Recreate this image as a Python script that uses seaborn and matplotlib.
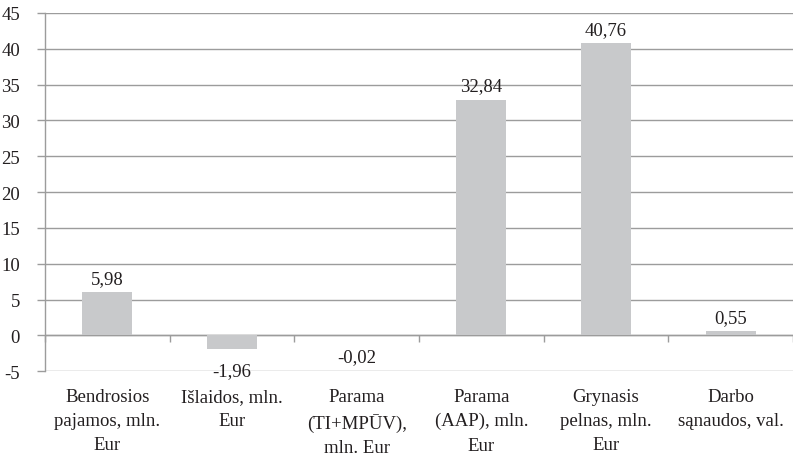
import numpy as np
import pandas as pd
import matplotlib
matplotlib.use("Agg")
import matplotlib.pyplot as plt
import seaborn as sns

# --- Data ---
categories = [
    "Bendrosios\npajamos, mln.\nEur",
    "Išlaidos, mln.\nEur",
    "Parama\n(TI+MPŪV),\nmln. Eur",
    "Parama\n(AAP), mln.\nEur",
    "Grynasis\npelnas, mln.\nEur",
    "Darbo\nsąnaudos, val.",
]
values = [5.98, -1.96, -0.02, 32.84, 40.76, 0.55]
y_ticks = [-5, 0, 5, 10, 15, 20, 25, 30, 35, 40, 45]

BAR_COLOR = "#c8c9cb"
LINE_COLOR = "#9c9c9c"
TEXT_COLOR = "#231f20"
FS = 13.5

sns.set_theme(style="white")
plt.rcParams["font.family"] = ["Liberation Serif", "DejaVu Serif"]
plt.rcParams["font.size"] = FS

df = pd.DataFrame({"category": categories, "value": values})

fig = plt.figure(figsize=(7.93, 4.6), dpi=100)
ax = fig.add_axes([0.0567, 0.191, 0.9433, 0.7786])

sns.barplot(data=df, x="category", y="value", color=BAR_COLOR,
            width=0.4, saturation=1, linewidth=0, ax=ax, zorder=3)

ax.set_ylim(y_ticks[0], y_ticks[-1])
ax.set_xlim(-0.5, len(categories) - 0.5)
ax.set_yticks(y_ticks)
ax.set_yticklabels([str(t) for t in y_ticks], color=TEXT_COLOR, fontsize=FS)
ax.yaxis.grid(True, color=LINE_COLOR, linewidth=1)
ax.set_axisbelow(True)
ax.set_xlabel("")
ax.set_ylabel("")

for side in ["top", "right", "bottom"]:
    ax.spines[side].set_visible(False)
ax.spines["left"].set_color(LINE_COLOR)
ax.spines["left"].set_linewidth(1)

ax.tick_params(axis="y", length=6, width=1, color=LINE_COLOR, pad=12,
               direction="out", left=True)
ax.tick_params(axis="x", length=0, pad=12, colors=TEXT_COLOR, labelsize=FS)
for lbl in ax.get_xticklabels():
    lbl.set_linespacing(1.55)

# zero axis line with tick marks between categories
ax.axhline(0, color=LINE_COLOR, linewidth=1, zorder=2)
zero_frac = (0 - y_ticks[0]) / (y_ticks[-1] - y_ticks[0])
sec = ax.secondary_xaxis(zero_frac)
sec.set_xticks(np.arange(len(categories) + 1) - 0.5)
sec.set_xticklabels([])
sec.tick_params(length=5, width=1, color=LINE_COLOR, direction="out")
sec.spines["bottom"].set_visible(False)
sec.spines["top"].set_visible(False)

# value labels
for i, v in enumerate(values):
    label = f"{v:.2f}".replace(".", ",")
    if v >= 0:
        ax.annotate(label, (i, v), xytext=(0, 4), textcoords="offset points",
                    ha="center", va="bottom", fontsize=FS, color=TEXT_COLOR)
    else:
        ax.annotate(label, (i, v), xytext=(0, -9), textcoords="offset points",
                    ha="center", va="top", fontsize=FS, color=TEXT_COLOR)

fig.savefig("out.png", dpi=100)
